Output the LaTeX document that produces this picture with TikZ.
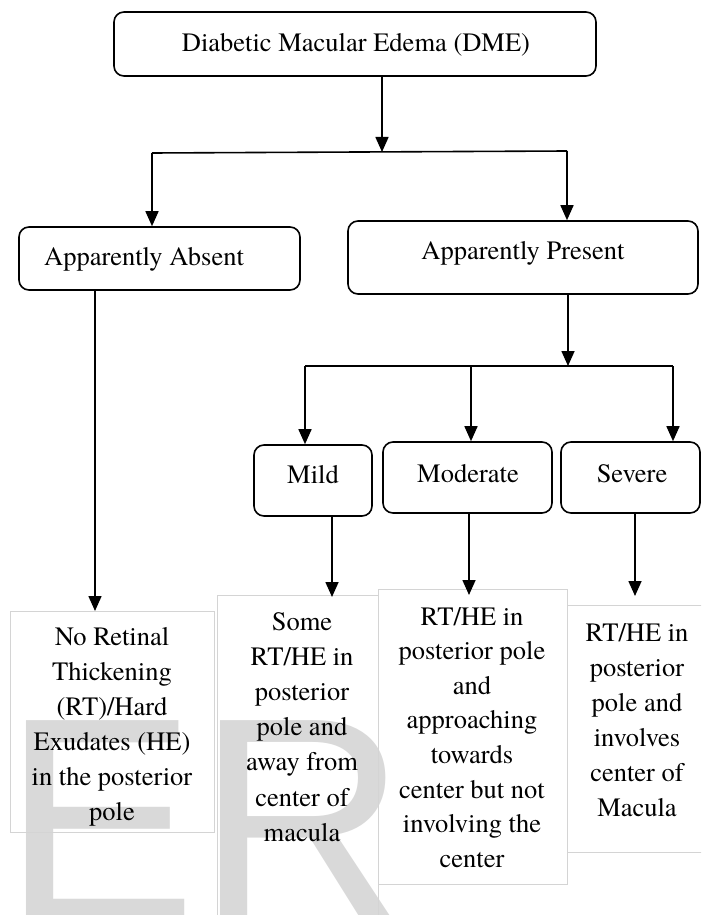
\documentclass[tikz,border=0pt]{standalone}
\usepackage{fontspec}
\setmainfont{texgyretermes}[Extension=.otf,UprightFont=*-regular,BoldFont=*-bold,ItalicFont=*-italic,BoldItalicFont=*-bolditalic]
\newfontfamily\wmfont{Liberation Sans}
\usetikzlibrary{arrows.meta}
\definecolor{wmgray}{RGB}{217,217,217}
\definecolor{faint}{RGB}{212,212,212}
\begin{document}
\begin{tikzpicture}[x=1pt,y=-1pt,
  rbox/.style={draw=black, line width=1.6pt, rounded corners=10pt, inner sep=0pt},
  lbl/.style={inner sep=0pt, anchor=base, font=\fontsize{26.5}{30}\selectfont},
  fbox/.style={draw=faint, line width=0.8pt, inner sep=0pt, anchor=north west},
  body/.style={inner sep=0pt, anchor=base, align=center},
  link/.style={line width=1.6pt},
  arr/.style={line width=1.6pt, -{Triangle[width=13pt,length=15pt]}}]

\useasboundingbox (0,0) rectangle (701,915);
\begin{scope}
\clip (0,0) rectangle (701,915);
\node[anchor=base west, inner sep=0pt, text=wmgray, font=\wmfont\fontsize{292}{292}\selectfont] (wm) at (2,921) {ER};

% faint text boxes
\node[fbox, minimum width=204pt, minimum height=221pt] (bA) at (10,611) {};
\node[fbox, minimum width=161pt, minimum height=340pt] (bB) at (217,595) {};
\node[fbox, minimum width=189pt, minimum height=295pt] (bC) at (378,589) {};
\node[fbox, minimum width=145pt, minimum height=247pt] (bD) at (567,605) {};

% description texts (anchored at baseline of first line)
\node[body, font=\fontsize{26.5}{35}\selectfont, anchor=north] (tA) at (112,627) {No Retinal\\Thickening\\(RT)/Hard\\Exudates (HE)\\in the posterior\\pole};
\node[body, font=\fontsize{26.5}{35.2}\selectfont, anchor=north] (tB) at (302,612) {Some\\RT/HE in\\posterior\\pole and\\away from\\center of\\macula};
\node[body, font=\fontsize{26.5}{34.6}\selectfont, anchor=north] (tC) at (472,607) {RT/HE in\\posterior pole\\and\\approaching\\towards\\center but not\\involving the\\center};
\node[body, font=\fontsize{26.5}{35}\selectfont, anchor=north] (tD) at (637,623) {RT/HE in\\posterior\\pole and\\involves\\center of\\Macula};

% rounded boxes
\node[rbox, minimum width=482pt, minimum height=64pt] (dme) at (355,44) {};
\node[rbox, minimum width=281pt, minimum height=63pt] (absent) at (159.5,258.5) {};
\node[rbox, minimum width=350pt, minimum height=73pt] (present) at (523,257.5) {};
\node[rbox, minimum width=118pt, minimum height=71pt] (mild) at (313,480.5) {};
\node[rbox, minimum width=169pt, minimum height=71pt] (moderate) at (467.5,477.5) {};
\node[rbox, minimum width=139pt, minimum height=71pt] (severe) at (630.5,477.5) {};

\node[lbl] (tdme) at (356,52) {Diabetic Macular Edema (DME)};
\node[lbl] (tabs) at (144,265) {Apparently Absent};
\node[lbl] (tpres) at (523,259) {Apparently Present};
\node[lbl] (tmild) at (313,483) {Mild};
\node[lbl] (tmod) at (468,482) {Moderate};
\node[lbl] (tsev) at (632,482) {Severe};

% connectors level 1
\coordinate (j1) at (382,152);
\coordinate (jL) at (152,153);
\coordinate (jR) at (567,151);
\draw[arr] (dme.south -| j1) -- (j1);
\draw[link] (jL) -- (jR);
\draw[arr] (jL) -- (absent.north -| jL);
\draw[arr] (jR) -- (present.north -| jR);

% connectors level 2
\coordinate (k1) at (568,366);
\coordinate (kL) at (305,366);
\coordinate (kM) at (471,366);
\coordinate (kR) at (673,366);
\draw[arr] (present.south -| k1) -- (k1);
\draw[link] (kL) -- (kR);
\draw[arr] (kL) -- (mild.north -| kL);
\draw[arr] (kM) -- (moderate.north -| kM);
\draw[arr] (kR) -- (severe.north -| kR);

% connectors to descriptions
\coordinate (pA) at (95,611);
\coordinate (pB) at (332,597);
\coordinate (pC) at (469,595);
\coordinate (pD) at (635,596);
\draw[arr] (absent.south -| pA) -- (pA);
\draw[arr] (mild.south -| pB) -- (pB);
\draw[arr] (moderate.south -| pC) -- (pC);
\draw[arr] (severe.south -| pD) -- (pD);
\end{scope}
\end{tikzpicture}
\end{document}
